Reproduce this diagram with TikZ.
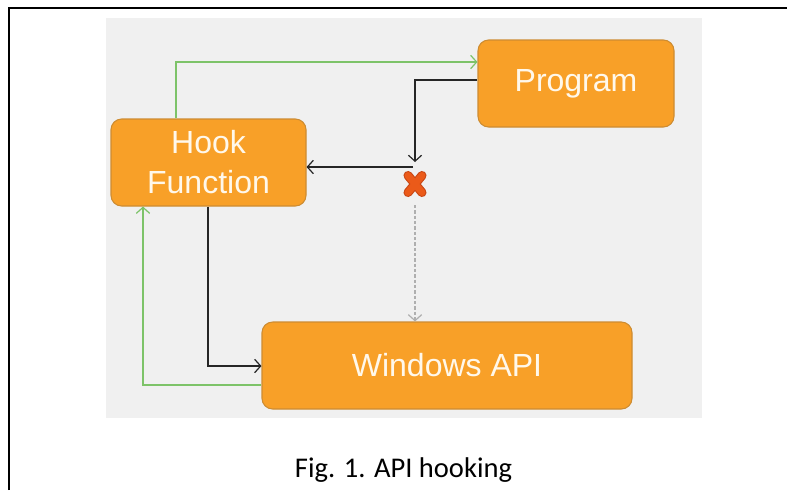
\documentclass[tikz,border=0pt]{standalone}
\usepackage{fontspec}
\setmainfont{Liberation Sans}
\newfontfamily\capfont{Carlito}
\usetikzlibrary{arrows.meta}
\definecolor{bgray}{RGB}{240,240,240}
\definecolor{boxfill}{RGB}{248,160,40}
\definecolor{boxdraw}{RGB}{205,140,50}
\definecolor{boxtext}{RGB}{255,248,235}
\definecolor{lgreen}{RGB}{125,195,105}
\definecolor{xfill}{RGB}{235,90,25}
\definecolor{xdraw}{RGB}{200,70,20}
\definecolor{dgray}{RGB}{175,175,175}
\tikzset{
  box/.style={draw=boxdraw, line width=0.8pt, fill=boxfill, rounded corners=8pt,
    text=boxtext, font=\fontsize{24}{30}\selectfont, align=center,
    inner sep=0pt, minimum height=65.25pt},
  tip/.style={-{Straight Barb[length=4.5pt,width=10pt,line width=0.9pt]}},
  gline/.style={draw=lgreen, line width=1.1pt, tip},
  bline/.style={draw=black!85, line width=1.1pt, tip},
  dline/.style={draw=dgray, line width=0.9pt, dashed, dash pattern=on 2.5pt off 1.5pt, tip},
}
\begin{document}
\begin{tikzpicture}[x=0.75pt,y=-0.75pt]
\useasboundingbox (0,0) rectangle (787,490);
\fill[white] (0,0) rectangle (787,490);
% frame
\draw[line width=1.8pt] (9,490) -- (9,8) -- (787,8);
% background
\fill[bgray] (106,18) rectangle (702,418);
% boxes
\node[box, minimum width=146.25pt] (hook) at (208.5,162.5) {Hook\\Function};
\node[box, minimum width=147pt] (prog) at (576,83.5) {Program};
\node[box, minimum width=277.5pt] (win) at (447,365.5) {Windows API};
% coordinates
\coordinate (bend) at (415,162);
\coordinate (cut) at (413,167);
\coordinate (xm) at (415,184);
\coordinate (dstart) at (415,205);
% connectors
\draw[gline] (hook.north -| 176,0) |- (prog.west |- 0,62);
\draw[bline] (prog.west |- 0,80) -| (bend);
\draw[bline] (cut) -- (hook.east |- cut);
\draw[dline] (dstart) -- (win.north -| dstart);
\draw[bline] (hook.south -| 208,0) |- (win.west |- 0,366);
\draw[gline] (win.west |- 0,385) -| (hook.south -| 143,0);
% cross
\begin{scope}[shift={(xm)}]
  \draw[xdraw, line width=6.8pt, line cap=round] (-7,-8.5) -- (7,8.5) (-7,8.5) -- (7,-8.5);
  \draw[xfill, line width=5.2pt, line cap=round] (-7,-8.5) -- (7,8.5) (-7,8.5) -- (7,-8.5);
\end{scope}
% caption
\node[font=\capfont\fontsize{21.4}{25}\selectfont, anchor=base] (cap) at (403.5,477) {Fig. 1. API hooking};
\end{tikzpicture}
\end{document}
